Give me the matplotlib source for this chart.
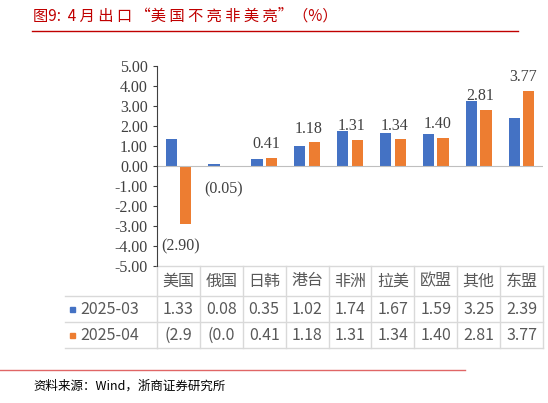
import matplotlib
matplotlib.use("Agg")
import matplotlib.pyplot as plt
from matplotlib.transforms import blended_transform_factory

plt.rcParams['font.family'] = ['Noto Sans CJK SC', 'DejaVu Sans']

categories = ['美国', '俄国', '日韩', '港台', '非洲', '拉美', '欧盟', '其他', '东盟']
mar_values = [1.33, 0.08, 0.35, 1.02, 1.74, 1.67, 1.59, 3.25, 2.39]
apr_values = [-2.90, -0.05, 0.41, 1.18, 1.31, 1.34, 1.40, 2.81, 3.77]
series_names = ['2025-03', '2025-04']
apr_table = ['(2.9', '(0.0', '0.41', '1.18', '1.31', '1.34', '1.40', '2.81', '3.77']
yticks = [5, 4, 3, 2, 1, 0, -1, -2, -3, -4, -5]

blue = '#4472C4'
orange = '#ED7D31'
W, H = 548, 403
fig = plt.figure(figsize=(W / 100, H / 100), dpi=100)

def fx(px):
    return px / W

def fy(py):
    return 1 - py / H

# title and rules
fig.text(fx(33), fy(16), '图9:  4 月 出 口 “美 国 不 亮 非 美 亮”（%）', color='#C00000',
         fontsize=11, va='center', ha='left')
fig.add_artist(plt.Line2D([fx(32), fx(518)], [fy(31), fy(31)], color='#C00000', lw=1))
fig.add_artist(plt.Line2D([fx(0), fx(465)], [fy(370), fy(370)], color='#E06666', lw=1))
fig.text(fx(33), fy(386), '资料来源：Wind，浙商证券研究所', fontsize=9, va='center',
         ha='left', family=['Noto Sans CJK SC'])

ax = fig.add_axes([fx(157), fy(266), fx(543) - fx(157), fy(66) - fy(266)])
x = list(range(len(categories)))
off = 0.17
wid = 0.26
ax.bar([i - off for i in x], mar_values, width=wid, color=blue)
ax.bar([i + off for i in x], apr_values, width=wid, color=orange)
ax.set_xlim(-0.5, len(categories) - 0.5)
ax.set_ylim(-5, 5)
ax.set_yticks(yticks)
ax.set_yticklabels([f'{v:.2f}' for v in yticks], family='Liberation Serif', fontsize=11.5,
                   color='#404040')
ax.set_xticks([])
for s in ['top', 'right', 'bottom']:
    ax.spines[s].set_visible(False)
ax.spines['left'].set_color('#404040')
ax.tick_params(axis='y', length=3, color='#404040')
ax.axhline(0, color='#BFBFBF', lw=0.8)

for i, v in enumerate(apr_values):
    if v >= 0:
        ax.annotate(f'{v:.2f}', (i + off, v), xytext=(-4, 4), textcoords='offset points',
                    ha='center', va='bottom', family='Liberation Serif', fontsize=11.5,
                    color='#404040')
    else:
        ax.text(i + 0.05, v - 1.1, f'({abs(v):.2f})', ha='center', va='center',
                family='Liberation Serif', fontsize=11.5, color='#404040')

# data table under the axis
tr = blended_transform_factory(ax.transData, fig.transFigure)
grid = '#D9D9D9'
rows_y = [fy(266), fy(296), fy(322), fy(348)]
for yv in rows_y:
    ax.plot([-0.5, len(categories) - 0.5], [yv, yv], transform=tr, color=grid, lw=1,
            clip_on=False)
for yv in rows_y[1:]:
    fig.add_artist(plt.Line2D([fx(65), fx(157)], [yv, yv], color=grid, lw=1))
for i in range(len(categories) + 1):
    ax.plot([i - 0.5, i - 0.5], [rows_y[0], rows_y[3]], transform=tr, color=grid, lw=1,
            clip_on=False)
tc = '#595959'
for i, c in enumerate(categories):
    ax.text(i, (rows_y[0] + rows_y[1]) / 2, c, transform=tr, ha='center', va='center',
            fontsize=11.5, color=tc)
    ax.text(i, (rows_y[1] + rows_y[2]) / 2, f'{mar_values[i]:.2f}', transform=tr,
            ha='center', va='center', fontsize=11.5, color=tc)
    ax.text(i, (rows_y[2] + rows_y[3]) / 2, apr_table[i], transform=tr,
            ha='center', va='center', fontsize=11.5, color=tc)
for k, (name, col) in enumerate(zip(series_names, [blue, orange])):
    yc = (rows_y[k + 1] + rows_y[k + 2]) / 2
    fig.patches.append(plt.Rectangle((fx(70), yc - 2.5 / H), 5 / W, 5 / H, color=col,
                                     transform=fig.transFigure))
    fig.text(fx(80), yc, name, ha='left', va='center', fontsize=11.5, color=tc)

fig.savefig('out.png', dpi=100)
